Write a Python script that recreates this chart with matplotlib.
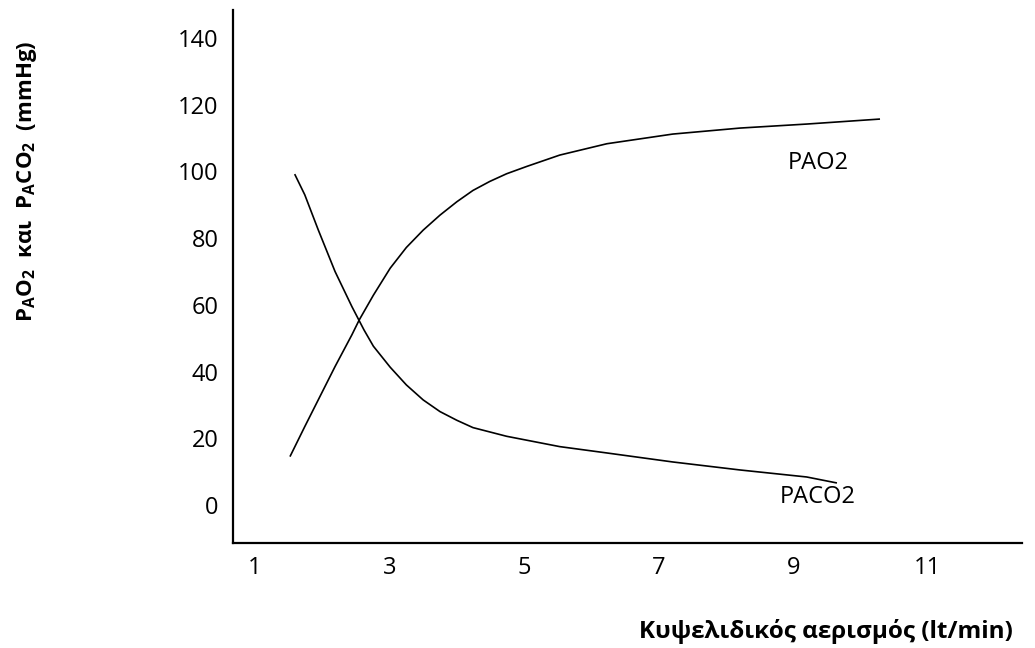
import matplotlib.pyplot as plt

plt.rcParams["font.family"] = ["Open Sans", "DejaVu Sans"]
plt.rcParams["mathtext.fontset"] = "custom"
plt.rcParams["mathtext.rm"] = "Open Sans"
plt.rcParams["mathtext.bf"] = "Open Sans:bold"

# values
pao2_x = [1.52, 1.74, 1.94, 2.19, 2.44, 2.55, 2.76, 3.01, 3.25, 3.50, 3.75, 4.00,
          4.24, 4.49, 4.74, 5.04, 5.53, 6.23, 7.21, 8.21, 9.20, 10.29]
pao2_y = [14.5, 23.5, 31.5, 41.5, 51.0, 55.5, 62.9, 71.0, 77.2, 82.4, 86.9, 90.9,
          94.3, 97.0, 99.3, 101.5, 104.9, 108.3, 111.2, 113.0, 114.2, 115.7]

paco2_x = [1.59, 1.74, 1.94, 2.19, 2.44, 2.62, 2.76, 3.01, 3.25, 3.50, 3.75, 4.00,
           4.24, 4.74, 5.53, 6.23, 7.21, 8.21, 9.20, 9.65]
paco2_y = [99.2, 93.0, 82.5, 70.0, 59.5, 52.5, 47.6, 41.3, 36.0, 31.5, 28.0, 25.4,
           23.2, 20.6, 17.5, 15.6, 12.9, 10.5, 8.4, 6.6]

x_ticks = [1, 3, 5, 7, 9, 11]
y_ticks = [0, 20, 40, 60, 80, 100, 120, 140]

fig = plt.figure(figsize=(10.35, 6.48), dpi=100)
ax = fig.add_axes([0.2251, 0.1620, 0.7623, 0.8226])

ax.plot(pao2_x, pao2_y, color="black", lw=1.2, solid_capstyle="butt",
        solid_joinstyle="round")
ax.plot(paco2_x, paco2_y, color="black", lw=1.2, solid_capstyle="butt",
        solid_joinstyle="round")

ax.text(9.37, 102.5, "PAO2", fontsize=17, ha="center", va="center")
ax.text(9.37, 2.4, "PACO2", fontsize=17, ha="center", va="center")

ax.set_xlim(0.673, 12.40)
ax.set_ylim(-11.4, 148.4)
ax.set_xticks(x_ticks)
ax.set_yticks(y_ticks)
ax.tick_params(axis="both", length=0, labelsize=17)
ax.tick_params(axis="y", pad=10.5)
ax.tick_params(axis="x", pad=9)

for s in ["top", "right"]:
    ax.spines[s].set_visible(False)
for s in ["left", "bottom"]:
    ax.spines[s].set_linewidth(1.6)
    ax.spines[s].set_color("black")

fig.text(826 / 1035, 1 - 631 / 648, "Κυψελιδικός αερισμός (lt/min)",
         fontsize=17.5, fontweight="bold", ha="center", va="center")
fig.text(27 / 1035, 1 - 181 / 648,
         r"$\mathbf{P_{A}O_{2}}$  και  $\mathbf{P_{A}CO_{2}}$  (mmHg)",
         fontsize=16, fontweight="bold", rotation=90, ha="center", va="center")

fig.savefig("out.png", dpi=100)
